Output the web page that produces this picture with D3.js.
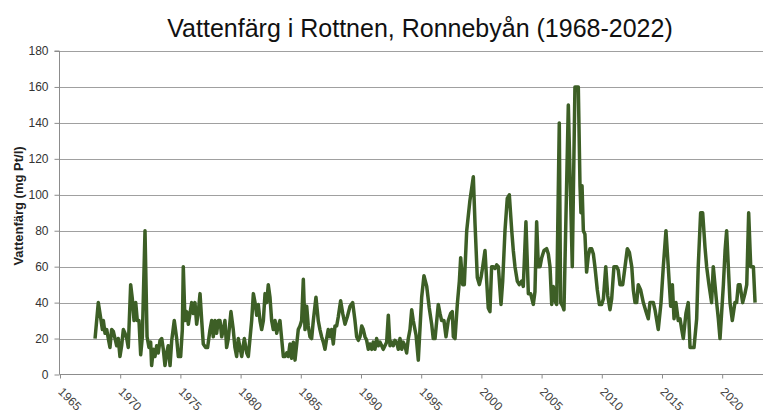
<!DOCTYPE html>
<html><head><meta charset="utf-8">
<script src="https://cdn.jsdelivr.net/npm/d3@7/dist/d3.min.js"></script>
<style>body{margin:0;background:#fff}svg{display:block}</style>
</head><body><svg id="c" width="763" height="417"></svg>
<script>
const title = "Vattenfärg i Rottnen, Ronnebyån (1968-2022)";
const yLabel = "Vattenfärg (mg Pt/l)";
const yTicks = [0,20,40,60,80,100,120,140,160,180];
const xTicks = [1965,1970,1975,1980,1985,1990,1995,2000,2005,2010,2015,2020];
// sample time (decimal year)
const sampleTimes = [
1967.91,1968.18,1968.41,1968.52,1968.60,1968.74,1968.88,1969.01,1969.15,1969.29,1969.43,1969.57,1969.71,1969.84,1969.98,
1970.12,1970.26,1970.40,1970.54,1970.67,1970.87,1971.01,1971.15,1971.29,1971.42,1971.56,1971.70,1971.84,1972.06,1972.23,
1972.39,1972.53,1972.61,1972.75,1972.89,1973.03,1973.16,1973.31,1973.45,1973.58,1973.72,1973.86,1973.99,1974.14,1974.28,
1974.49,1974.69,1974.83,1975.02,1975.16,1975.24,1975.38,1975.52,1975.66,1975.82,1975.94,1976.07,1976.21,1976.35,1976.49,
1976.63,1976.77,1976.90,1977.10,1977.26,1977.46,1977.60,1977.73,1977.87,1978.01,1978.15,1978.29,1978.43,1978.56,1978.70,
1978.84,1978.98,1979.20,1979.39,1979.53,1979.67,1979.81,1979.95,1980.09,1980.31,1980.51,1980.64,1980.78,1980.92,1981.06,
1981.20,1981.34,1981.47,1981.61,1981.75,1981.89,1982.03,1982.17,1982.30,1982.44,1982.58,1982.72,1982.86,1983.00,1983.13,
1983.27,1983.41,1983.55,1983.69,1983.83,1983.96,1984.10,1984.24,1984.38,1984.52,1984.79,1984.93,1985.07,1985.21,1985.35,
1985.49,1985.62,1985.76,1985.90,1986.04,1986.26,1986.45,1986.59,1986.73,1986.87,1987.01,1987.15,1987.28,1987.43,1987.56,
1987.70,1987.84,1987.98,1988.11,1988.31,1988.48,1988.67,1988.86,1989.09,1989.31,1989.50,1989.64,1989.78,1989.92,1990.06,
1990.19,1990.33,1990.47,1990.61,1990.75,1990.89,1991.02,1991.16,1991.30,1991.44,1991.58,1991.72,1991.85,1991.99,1992.13,
1992.27,1992.41,1992.55,1992.68,1992.82,1992.96,1993.10,1993.24,1993.38,1993.51,1993.65,1993.79,1993.93,1994.07,1994.21,
1994.34,1994.57,1994.76,1995.04,1995.23,1995.46,1995.67,1995.87,1996.00,1996.15,1996.42,1996.56,1996.70,1996.89,1997.06,
1997.25,1997.45,1997.58,1997.67,1997.81,1998.00,1998.17,1998.28,1998.45,1998.58,1998.78,1999.05,1999.33,1999.47,1999.66,
1999.83,1999.97,2000.11,2000.30,2000.44,2000.57,2000.71,2000.85,2000.99,2001.13,2001.27,2001.41,2001.63,2001.77,2001.96,
2002.15,2002.32,2002.52,2002.65,2002.79,2002.98,2003.15,2003.35,2003.48,2003.70,2003.90,2004.09,2004.31,2004.45,2004.59,
2004.73,2004.87,2005.01,2005.20,2005.42,2005.56,2005.70,2005.84,2005.97,2006.11,2006.25,2006.47,2006.58,2006.75,2006.86,
2007.22,2007.55,2007.77,2008.05,2008.19,2008.27,2008.36,2008.47,2008.60,2008.74,2008.88,2009.02,2009.16,2009.30,2009.43,
2009.63,2009.80,2009.99,2010.13,2010.33,2010.49,2010.68,2010.82,2011.01,2011.24,2011.37,2011.51,2011.74,2011.93,2012.12,
2012.29,2012.49,2012.62,2012.76,2012.90,2013.03,2013.23,2013.45,2013.67,2013.86,2014.00,2014.28,2014.42,2014.69,2014.92,
2015.11,2015.33,2015.52,2015.72,2015.86,2016.00,2016.16,2016.35,2016.50,2016.64,2016.77,2016.99,2017.18,2017.33,2017.47,
2017.66,2017.88,2018.01,2018.21,2018.38,2018.57,2018.71,2018.90,2019.12,2019.26,2019.40,2019.54,2019.68,2019.82,2020.10,
2020.24,2020.37,2020.51,2020.65,2020.84,2021.06,2021.20,2021.34,2021.48,2021.70,2021.89,2022.04,2022.20,2022.37,2022.59,
2022.73];
// water colour (mg Pt/l)
const colourValues = [
20,40,30,25,30,23,25,20,15,25,24,20,16,20,10,
16,25,23,20,15,50,42,30,40,30,30,11,21,80,21,
15,18,5,14,10,16,12,19,20,14,5,12,16,5,19,
30,20,10,10,25,60,30,35,28,35,40,34,40,28,35,
45,30,17,15,15,25,30,21,30,23,30,30,21,25,30,
15,20,35,25,15,10,20,15,10,20,12,10,20,30,45,
40,33,39,30,25,30,45,40,50,43,30,25,30,23,27,
30,20,10,10,12,10,17,9,18,8,25,27,30,53,25,
38,27,21,20,30,43,30,25,21,18,14,20,25,21,25,
17,27,27,32,41,34,28,32,38,40,30,21,19,21,27,
25,21,19,14,17,14,18,14,20,16,18,16,14,16,18,
33,16,18,16,19,18,14,20,14,18,16,12,20,25,36,
30,22,8,43,55,49,37,28,20,20,39,34,30,30,21,
30,34,35,21,20,39,52,65,50,50,80,97,110,84,54,
50,54,60,69,52,37,35,60,60,59,61,60,39,52,80,
98,100,80,69,60,52,50,52,49,85,45,45,39,46,85,
60,60,65,69,70,67,60,39,49,41,39,140,40,38,36,
150,60,160,160,105,90,105,80,78,57,66,70,70,67,60,
47,39,39,42,60,44,36,42,60,60,58,50,50,60,70,
68,60,47,40,40,50,47,40,35,31,40,40,36,25,40,
60,80,60,38,50,31,40,30,31,25,20,34,40,15,15,
15,31,60,90,90,71,60,50,40,60,50,40,31,20,50,
69,80,60,40,30,40,40,50,50,40,45,50,90,60,60,
40];

(function(){
const data = sampleTimes.map((t,i)=>({t, v: colourValues[i]}));
const svg = d3.select("#c");
const pLeft = 59.5, pRight = 763, pTop = 51, pBottom = 374.5;
const x = d3.scaleLinear().domain([1965, 2023.39]).range([60, pRight]);
const y = d3.scaleLinear().domain([0,180]).range([pBottom, pTop]);

// gridlines
svg.append("g").selectAll("line").data(yTicks.filter(d=>d>0)).join("line")
  .attr("x1", pLeft).attr("x2", pRight)
  .attr("y1", d=>Math.round(y(d))+0.5).attr("y2", d=>Math.round(y(d))+0.5)
  .attr("stroke", "#a0a0a0").attr("stroke-width", 1);

// y axis
const ya = svg.append("g").attr("transform", `translate(${pLeft},0)`)
  .call(d3.axisLeft(y).tickValues(yTicks).tickSize(5).tickPadding(6).tickFormat(d3.format("d")));
ya.select(".domain").attr("stroke", "#8c8c8c").attr("d", `M-5,${pTop}H0V${pBottom}`);
ya.selectAll(".tick line").attr("stroke", "#8c8c8c");
ya.selectAll(".tick text").attr("fill", "#333").style("font", "12px 'Liberation Sans', Arial, sans-serif");

// x axis
const xa = svg.append("g").attr("transform", `translate(0,${pBottom})`)
  .call(d3.axisBottom(x).tickValues(xTicks).tickSize(4).tickFormat(d3.format("d")));
xa.select(".domain").attr("stroke", "#8c8c8c").attr("d", `M${pLeft},0H${pRight}`);
xa.selectAll(".tick line").attr("stroke", "#8c8c8c");
xa.selectAll(".tick text")
  .attr("fill", "#444")
  .style("font", "12px 'Liberation Sans', Arial, sans-serif")
  .attr("text-anchor", "start")
  .attr("transform", "translate(-3,18) rotate(45)")
  .attr("x", 0).attr("y", 0).attr("dy", 0);

// line
const line = d3.line().x(d=>x(d.t)).y(d=>y(d.v)).curve(d3.curveLinear);
svg.append("path").datum(data).attr("d", line)
  .attr("fill", "none").attr("stroke", "#3d5f26").attr("stroke-width", 3.5)
  .attr("stroke-linejoin", "round");

// title
svg.append("text").attr("x", 420).attr("y", 37).attr("text-anchor", "middle")
  .style("font", "25px 'Liberation Sans', Arial, sans-serif").attr("fill", "#111").text(title);

// y label
svg.append("text").attr("transform", `translate(18,206) rotate(-90)`)
  .attr("text-anchor", "middle").attr("dy", "0.35em")
  .style("font", "bold 13px 'Liberation Sans', Arial, sans-serif").attr("fill", "#222").text(yLabel);
})();
</script></body></html>
